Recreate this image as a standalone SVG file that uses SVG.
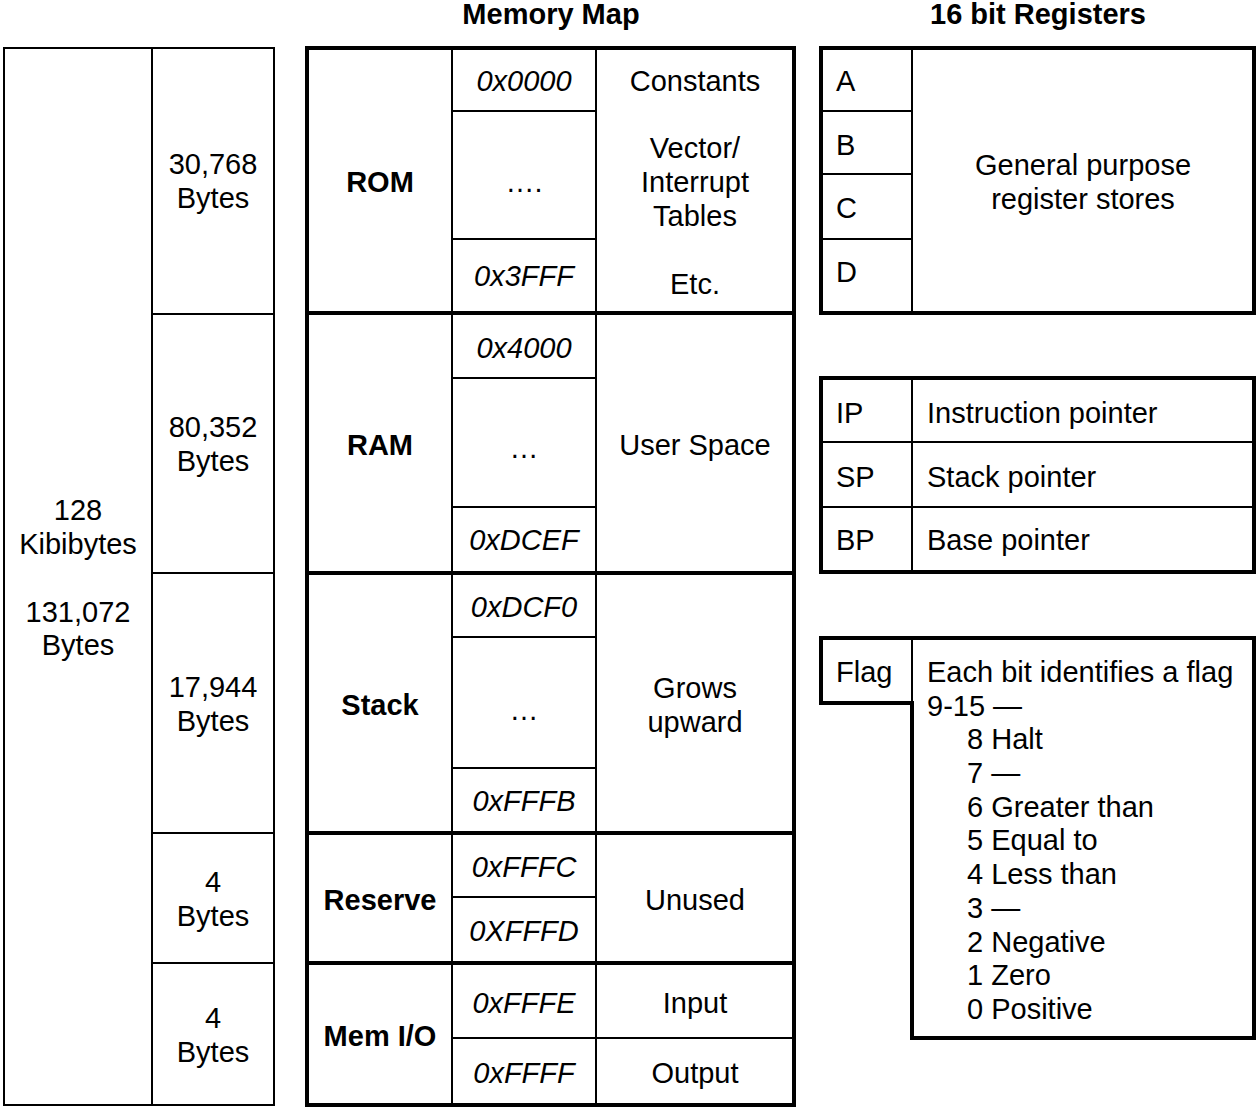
<svg xmlns="http://www.w3.org/2000/svg" width="1256" height="1107" viewBox="0 0 1256 1107">
<style>
text{font-family:"Liberation Sans",Arial,Helvetica,sans-serif;font-size:29px;fill:#000}
.c{text-anchor:middle}
.b{font-weight:bold}
.i{font-style:italic}
.thin{fill:none;stroke:#000;stroke-width:2}
.thick{fill:none;stroke:#000;stroke-width:4}
</style>
<rect x="0" y="0" width="1256" height="1107" fill="#fff"/>
<g id="titles">
<text class="c b" x="551" y="24">Memory Map</text>
<text class="c b" x="1038" y="24">16 bit Registers</text>
</g>
<g id="sizes">
<rect class="thin" x="4" y="48" width="270" height="1057"/>
<path class="thin" d="M152,48V1105M152,314H274M152,573H274M152,833H274M152,963H274"/>
<text class="c" x="78" y="520">128</text>
<text class="c" x="78" y="554">Kibibytes</text>
<text class="c" x="78" y="622">131,072</text>
<text class="c" x="78" y="655">Bytes</text>
<text class="c" x="213" y="174">30,768</text>
<text class="c" x="213" y="208">Bytes</text>
<text class="c" x="213" y="437">80,352</text>
<text class="c" x="213" y="471">Bytes</text>
<text class="c" x="213" y="697">17,944</text>
<text class="c" x="213" y="731">Bytes</text>
<text class="c" x="213" y="892">4</text>
<text class="c" x="213" y="926">Bytes</text>
<text class="c" x="213" y="1028">4</text>
<text class="c" x="213" y="1062">Bytes</text>
</g>
<g id="memory-map">
<rect class="thick" x="307" y="48" width="487" height="1057"/>
<path class="thin" d="M452,48V1105M596,48V1105M452,111H596M452,239H596M452,378H596M452,507H596M452,637H596M452,768H596M452,897H596M452,1038H794"/>
<path class="thick" d="M307,313H794M307,573H794M307,833H794M307,963H794"/>
<g id="rom">
<text class="c b" x="380" y="192">ROM</text>
<text class="c i" x="524" y="91">0x0000</text>
<text class="c" x="524" y="192">….</text>
<text class="c i" x="524" y="286">0x3FFF</text>
<text class="c" x="695" y="91">Constants</text>
<text class="c" x="695" y="158">Vector/</text>
<text class="c" x="695" y="192">Interrupt</text>
<text class="c" x="695" y="226">Tables</text>
<text class="c" x="695" y="294">Etc.</text>
</g>
<g id="ram">
<text class="c b" x="380" y="455">RAM</text>
<text class="c i" x="524" y="358">0x4000</text>
<text class="c" x="524" y="458">…</text>
<text class="c i" x="524" y="550">0xDCEF</text>
<text class="c" x="695" y="455">User Space</text>
</g>
<g id="stack">
<text class="c b" x="380" y="715">Stack</text>
<text class="c i" x="524" y="617">0xDCF0</text>
<text class="c" x="524" y="720">…</text>
<text class="c i" x="524" y="811">0xFFFB</text>
<text class="c" x="695" y="698">Grows</text>
<text class="c" x="695" y="732">upward</text>
</g>
<g id="reserve">
<text class="c b" x="380" y="910">Reserve</text>
<text class="c i" x="524" y="877">0xFFFC</text>
<text class="c i" x="524" y="941">0XFFFD</text>
<text class="c" x="695" y="910">Unused</text>
</g>
<g id="memio">
<text class="c b" x="380" y="1046">Mem I/O</text>
<text class="c i" x="524" y="1013">0xFFFE</text>
<text class="c i" x="524" y="1083">0xFFFF</text>
<text class="c" x="695" y="1013">Input</text>
<text class="c" x="695" y="1083">Output</text>
</g>
</g>
<g id="general-registers">
<rect class="thick" x="821" y="48" width="433" height="265"/>
<path class="thin" d="M912,48V313M821,111H912M821,174H912M821,239H912"/>
<text x="836" y="91">A</text>
<text x="836" y="155">B</text>
<text x="836" y="218">C</text>
<text x="836" y="282">D</text>
<text class="c" x="1083" y="175">General purpose</text>
<text class="c" x="1083" y="209">register stores</text>
</g>
<g id="pointer-registers">
<rect class="thick" x="821" y="378" width="433" height="194"/>
<path class="thin" d="M912,378V572M821,442H1254M821,507H1254"/>
<text x="836" y="423">IP</text>
<text x="927" y="423">Instruction pointer</text>
<text x="836" y="487">SP</text>
<text x="927" y="487">Stack pointer</text>
<text x="836" y="550">BP</text>
<text x="927" y="550">Base pointer</text>
</g>
<g id="flag-register">
<path class="thick" d="M821,638H1254V1038H912V703H821Z"/>
<path class="thin" d="M912,638V703"/>
<text x="836" y="682">Flag</text>
<text x="927" y="682">Each bit identifies a flag</text>
<text x="927" y="716">9-15 —</text>
<text x="967" y="749">8 Halt</text>
<text x="967" y="783">7 —</text>
<text x="967" y="817">6 Greater than</text>
<text x="967" y="850">5 Equal to</text>
<text x="967" y="884">4 Less than</text>
<text x="967" y="918">3 —</text>
<text x="967" y="952">2 Negative</text>
<text x="967" y="985">1 Zero</text>
<text x="967" y="1019">0 Positive</text>
</g>
<g id="connectors"></g>
</svg>
